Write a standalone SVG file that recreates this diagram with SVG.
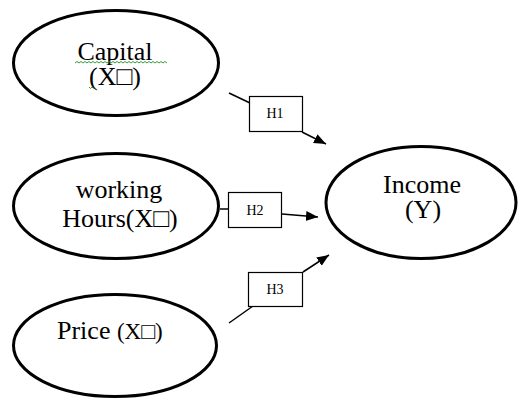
<svg xmlns="http://www.w3.org/2000/svg" width="520" height="401" viewBox="0 0 520 401">
<style>
.ell{fill:#fff;stroke:#000;stroke-width:3}
.box{fill:#fff;stroke:#000;stroke-width:1.2}
.t{font-family:"Liberation Serif","Times New Roman",serif;font-size:26px;fill:#000;text-anchor:middle}
.h{font-family:"Liberation Serif","Times New Roman",serif;font-size:14px;fill:#000;text-anchor:middle}
.c{fill:none;stroke:#000;stroke-width:1.5}
.sq{fill:none;stroke:#3a9a3a;stroke-width:1}
</style>
<defs>
<marker id="ah" markerUnits="userSpaceOnUse" markerWidth="14" markerHeight="12" refX="12" refY="5" orient="auto">
<path d="M0,0 L12,5 L0,10 z" fill="#000"/>
</marker>
</defs>
<rect width="520" height="401" fill="#fff"/>
<g id="connectors">
<line class="c" x1="229" y1="93" x2="250" y2="103"/>
<line class="c" x1="302" y1="132" x2="326" y2="144" marker-end="url(#ah)"/>
<line class="c" x1="220" y1="209" x2="229" y2="209"/>
<line class="c" x1="282" y1="214" x2="318" y2="217" marker-end="url(#ah)"/>
<line class="c" x1="229" y1="323" x2="253" y2="306"/>
<line class="c" x1="303" y1="272" x2="329" y2="255" marker-end="url(#ah)"/>
</g>
<g id="capital">
<ellipse class="ell" cx="116" cy="63" rx="102.5" ry="52.5"/>
<text class="t" x="115" y="60">Capital</text>
<path class="sq" d="M75,63 l2,-1.5 l2,1.5 l2,-1.5 l2,1.5 l2,-1.5 l2,1.5 l2,-1.5 l2,1.5 l2,-1.5 l2,1.5 l2,-1.5 l2,1.5 l2,-1.5 l2,1.5 l2,-1.5 l2,1.5 l2,-1.5 l2,1.5 l2,-1.5 l2,1.5 l2,-1.5 l2,1.5 l2,-1.5 l2,1.5 l2,-1.5 l2,1.5 l2,-1.5 l2,1.5 l2,-1.5 l2,1.5 l2,-1.5 l2,1.5 l2,-1.5 l2,1.5 l2,-1.5 l2,1.5 l2,-1.5 l2,1.5 l2,-1.5 l2,1.5 l2,-1.5 l2,1.5 l2,-1.5 l2,1.5 l2,-1.5 l2,1.5"/>
<path class="sq" d="M89,87 l1.5,1.5 l1.5,-1.5 l1.5,1.5"/>
<text class="t" x="115" y="85">(X□)</text>
</g>
<g id="working-hours">
<ellipse class="ell" cx="116" cy="206" rx="102.5" ry="52.5"/>
<text class="t" x="119" y="198">working</text>
<text class="t" x="120" y="227">Hours(X□)</text>
</g>
<g id="price">
<ellipse class="ell" cx="115" cy="345.5" rx="101.5" ry="51"/>
<text class="t" x="57" y="339" style="text-anchor:start">Price <tspan style="font-size:23px">(X□)</tspan></text>
</g>
<g id="income">
<ellipse class="ell" cx="421" cy="202.5" rx="95" ry="56"/>
<text class="t" x="422" y="193">Income</text>
<text class="t" x="423" y="218">(Y)</text>
</g>
<g id="h1">
<rect class="box" x="249.5" y="96.5" width="53" height="35"/>
<text class="h" x="275" y="118">H1</text>
</g>
<g id="h2">
<rect class="box" x="228.5" y="192.5" width="53" height="35"/>
<text class="h" x="255" y="215">H2</text>
</g>
<g id="h3">
<rect class="box" x="248.5" y="272.5" width="54" height="34"/>
<text class="h" x="275" y="294">H3</text>
</g>
</svg>
